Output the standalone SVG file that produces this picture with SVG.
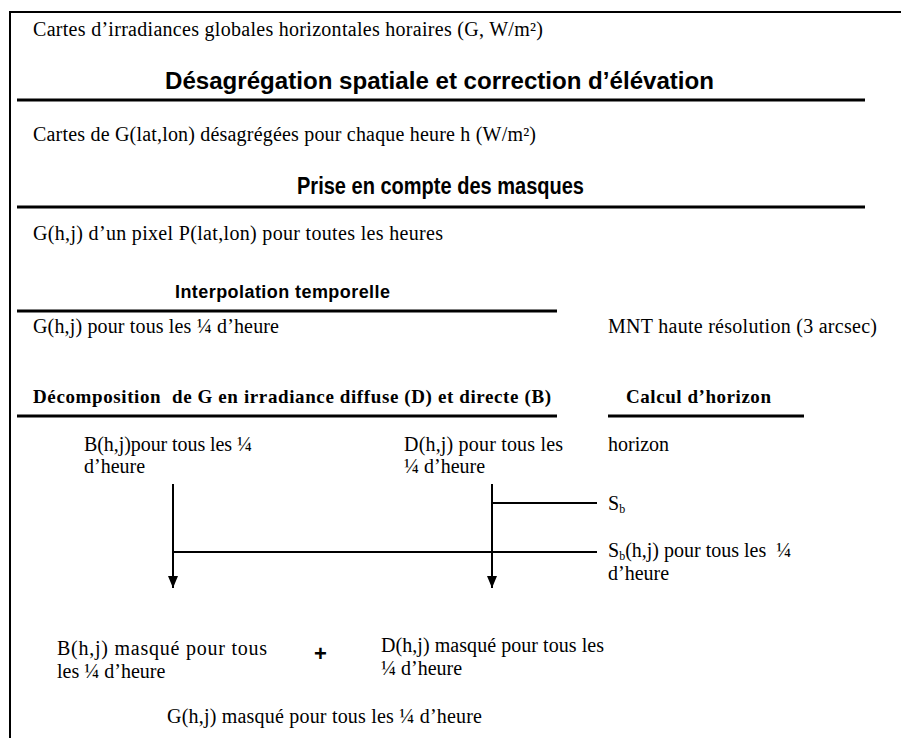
<svg xmlns="http://www.w3.org/2000/svg" width="901" height="738" viewBox="0 0 901 738">
<style>
.t{font-family:"Liberation Serif","Times New Roman",serif;font-size:20px;fill:#000}
.h{font-family:"Liberation Sans",Arial,sans-serif;font-weight:bold;fill:#000}
.tb{font-family:"Liberation Serif","Times New Roman",serif;font-weight:bold;font-size:19px;fill:#000}
.rule{stroke:#000;stroke-width:3;fill:none}
.ln{stroke:#000;stroke-width:2;fill:none}
</style>
<defs>
<marker id="ah" viewBox="0 0 12 10" refX="12" refY="5" markerWidth="12" markerHeight="10" markerUnits="userSpaceOnUse" orient="auto">
<path d="M0,0 L12,5 L0,10 Z" fill="#000"/>
</marker>
</defs>
<rect width="901" height="738" fill="#fff"/>
<g id="frame">
<path class="ln" d="M10,738 V12 H901"/>
</g>
<g id="n1"><text class="t" x="33" y="36" textLength="510">Cartes d’irradiances globales horizontales horaires (G, W/m²)</text></g>
<g id="n2"><text class="h" x="165" y="89" font-size="23" textLength="549" lengthAdjust="spacingAndGlyphs">Désagrégation spatiale et correction d’élévation</text>
<line class="rule" x1="17" y1="100" x2="865" y2="100"/></g>
<g id="n3"><text class="t" x="33" y="141" textLength="503">Cartes de G(lat,lon) désagrégées pour chaque heure h (W/m²)</text></g>
<g id="n4"><text class="h" x="297" y="194" font-size="23" textLength="287" lengthAdjust="spacingAndGlyphs">Prise en compte des masques</text>
<line class="rule" x1="17" y1="207" x2="865" y2="207"/></g>
<g id="n5"><text class="t" x="33" y="240" textLength="410">G(h,j) d’un pixel P(lat,lon) pour toutes les heures</text></g>
<g id="n6"><text class="h" x="175" y="298" font-size="18" textLength="215">Interpolation temporelle</text>
<line class="rule" x1="17" y1="311" x2="557" y2="311"/></g>
<g id="n7"><text class="t" x="33" y="333" textLength="246">G(h,j) pour tous les ¼ d’heure</text></g>
<g id="n8"><text class="t" x="608" y="333" textLength="269">MNT haute résolution (3 arcsec)</text></g>
<g id="n9"><text class="tb" x="33" y="403" xml:space="preserve" textLength="518">Décomposition  de G en irradiance diffuse (D) et directe (B)</text>
<line class="rule" x1="17" y1="416" x2="557" y2="416"/></g>
<g id="n10"><text class="tb" x="626" y="403" textLength="145">Calcul d’horizon</text>
<line class="rule" x1="608" y1="416" x2="804" y2="416"/></g>
<g id="n11"><text class="t" x="84" y="451" textLength="168">B(h,j)pour tous les ¼</text><text class="t" x="84" y="473">d’heure</text></g>
<g id="n12"><text class="t" x="404" y="451" textLength="159">D(h,j) pour tous les</text><text class="t" x="404" y="473">¼ d’heure</text></g>
<g id="n13"><text class="t" x="608" y="451">horizon</text></g>
<g id="n14"><text class="t" x="608" y="510">S<tspan font-size="12" dy="3">b</tspan></text></g>
<g id="n15"><text class="t" x="608" y="557" xml:space="preserve">S<tspan font-size="12" dy="3">b</tspan><tspan dy="-3">(h,j) pour tous les  ¼</tspan></text><text class="t" x="608" y="580">d’heure</text></g>
<g id="n16"><text class="t" x="57" y="655" textLength="210">B(h,j) masqué pour tous</text><text class="t" x="57" y="678">les ¼ d’heure</text></g>
<g id="n17"><text class="h" x="314" y="661" font-size="22">+</text></g>
<g id="n18"><text class="t" x="381" y="652" textLength="223">D(h,j) masqué pour tous les</text><text class="t" x="381" y="675">¼ d’heure</text></g>
<g id="n19"><text class="t" x="167" y="723" textLength="315">G(h,j) masqué pour tous les ¼ d’heure</text></g>
<g id="connectors">
<line class="ln" x1="173" y1="484" x2="173" y2="588" marker-end="url(#ah)"/>
<line class="ln" x1="492" y1="484" x2="492" y2="588" marker-end="url(#ah)"/>
<line class="ln" x1="492" y1="503" x2="597" y2="503"/>
<line class="ln" x1="173" y1="552" x2="597" y2="552"/>
</g>
</svg>
